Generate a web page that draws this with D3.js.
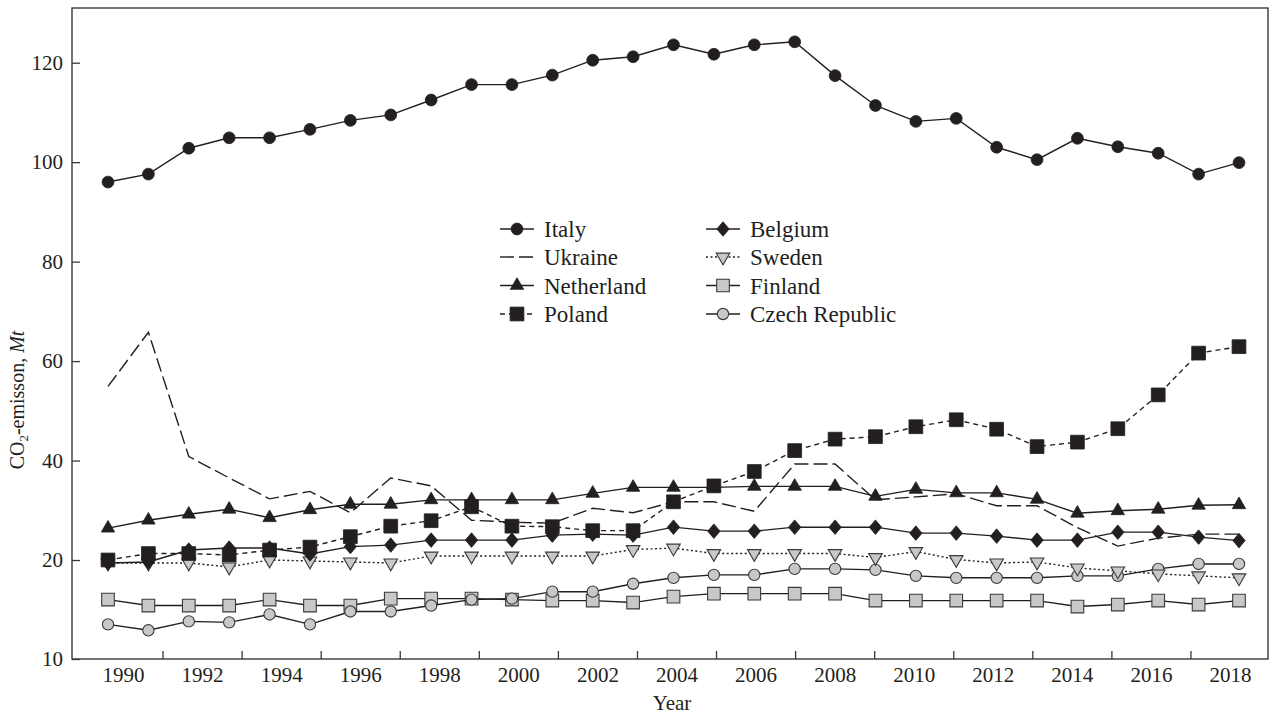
<!DOCTYPE html>
<html>
<head>
<meta charset="utf-8">
<script src="https://cdn.jsdelivr.net/npm/d3@7"></script>
<style>
  html, body { margin: 0; padding: 0; background: #fff; }
  svg { display: block; }
  text { font-family: "Liberation Serif", "Times New Roman", serif; fill: #231f20; }
</style>
</head>
<body>
<svg id="chart" width="1272" height="714"></svg>
<script>
// Annual CO2 emissions, Mt
const years = d3.range(1990, 2019);

const italy = [96.0, 97.6, 102.8, 104.9, 104.9, 106.6, 108.4, 109.5, 112.5, 115.6,
               115.6, 117.5, 120.5, 121.2, 123.6, 121.7, 123.6, 124.2, 117.4, 111.4,
               108.2, 108.8, 103.0, 100.5, 104.8, 103.1, 101.8, 97.6, 99.9];
const ukraine = [54.9, 65.8, 40.8, 36.5, 32.3, 33.8, 29.5, 36.5, 34.9, 28.0,
                 27.6, 27.4, 30.4, 29.5, 31.7, 31.7, 29.8, 39.3, 39.3, 32.1,
                 32.7, 33.3, 30.9, 30.9, 26.5, 22.8, 24.4, 25.2, 25.2];
const netherland = [26.4, 28.0, 29.2, 30.2, 28.5, 30.1, 31.2, 31.2, 32.1, 32.1,
                    32.1, 32.1, 33.4, 34.6, 34.6, 34.6, 34.8, 34.8, 34.8, 32.8,
                    34.2, 33.5, 33.5, 32.2, 29.4, 29.9, 30.2, 31.0, 31.1];
const poland = [20.0, 21.3, 21.3, 21.0, 22.0, 22.6, 24.7, 26.8, 27.9, 30.7,
                26.8, 26.7, 25.9, 25.9, 31.7, 34.9, 37.8, 42.0, 44.3, 44.8,
                46.8, 48.2, 46.3, 42.8, 43.7, 46.4, 53.2, 61.6, 62.9];
const belgium = [19.7, 19.8, 22.0, 22.4, 22.4, 21.2, 22.7, 23.0, 24.0, 24.0,
                 24.0, 25.0, 25.2, 25.0, 26.6, 25.8, 25.8, 26.6, 26.6, 26.6,
                 25.4, 25.4, 24.8, 24.0, 24.0, 25.6, 25.6, 24.6, 23.9];
const sweden = [19.7, 19.7, 19.7, 19.3, 20.0, 19.9, 19.8, 19.7, 20.8, 20.8,
                20.8, 20.8, 20.8, 22.1, 22.4, 21.3, 21.3, 21.3, 21.3, 20.5,
                21.7, 20.1, 19.7, 19.8, 19.2, 18.9, 18.6, 18.4, 18.2];
const finland = [16.0, 15.4, 15.4, 15.4, 16.0, 15.4, 15.4, 16.1, 16.1, 16.1,
                 16.0, 15.9, 15.9, 15.7, 16.3, 16.6, 16.6, 16.6, 16.6, 15.9,
                 15.9, 15.9, 15.9, 15.9, 15.3, 15.5, 15.9, 15.5, 15.9];
const czech = [13.5, 12.9, 13.8, 13.7, 14.5, 13.5, 14.8, 14.8, 15.4, 16.0,
               16.1, 16.8, 16.8, 17.6, 18.2, 18.5, 18.5, 19.1, 19.1, 19.0,
               18.4, 18.2, 18.2, 18.2, 18.4, 18.4, 19.1, 19.6, 19.6];

const yTicks = [10, 20, 40, 60, 80, 100, 120];
const yearLabels = d3.range(1990, 2019, 2);
const yearTicks = d3.range(1991, 2018, 2);

const INK = "#231f20";
const GREY = "#c7c8ca";

// custom rhombus a bit wider than d3's built-in diamond
const rhombus = {
  draw(ctx, size) {
    const h = Math.sqrt(size / 1.7);
    const w = h * 0.85;
    ctx.moveTo(0, -h); ctx.lineTo(w, 0); ctx.lineTo(0, h); ctx.lineTo(-w, 0); ctx.closePath();
  }
};
const triDown = {
  draw(ctx, size) {
    const s = Math.sqrt(size * 4 / Math.sqrt(3));
    const h = s * Math.sqrt(3) / 2;
    ctx.moveTo(-s / 2, -h / 3); ctx.lineTo(s / 2, -h / 3); ctx.lineTo(0, 2 * h / 3); ctx.closePath();
  }
};

const series = [
  { name: "Italy",          values: italy,      symbol: d3.symbolCircle,   size: 110, fill: INK,  dash: null },
  { name: "Ukraine",        values: ukraine,    symbol: null,              size: 0,   fill: INK,  dash: "14,5" },
  { name: "Netherland",     values: netherland, symbol: d3.symbolTriangle, size: 78,  fill: INK,  dash: null },
  { name: "Poland",         values: poland,     symbol: d3.symbolSquare,   size: 190, fill: INK,  dash: "5,4" },
  { name: "Belgium",        values: belgium,    symbol: rhombus,           size: 90,  fill: INK,  dash: null },
  { name: "Sweden",         values: sweden,     symbol: triDown,           size: 80,  fill: GREY, dash: "2,2.5" },
  { name: "Finland",        values: finland,    symbol: d3.symbolSquare,   size: 160, fill: GREY, dash: null },
  { name: "Czech Republic", values: czech,      symbol: d3.symbolCircle,   size: 100, fill: GREY, dash: null }
];

const drawOrder = ["Finland", "Czech Republic", "Sweden", "Belgium", "Netherland", "Ukraine", "Poland", "Italy"];

const svg = d3.select("#chart");
const plotLeft = 72, plotRight = 1268, plotTop = 8, plotBottom = 659;

// data positions and axis labelling
const x = d3.scaleLinear().domain([1990, 2018]).range([108, 1239]);
const xAxisScale = d3.scaleLinear().domain([1990, 2018]).range([123, 1230]);
// broken value axis: 10-20 stretched, 20 upward linear
const y = d3.scaleLinear().domain([10, 20, 131]).range([plotBottom, 560, plotTop]);

// frame
svg.append("rect")
  .attr("x", plotLeft).attr("y", plotTop)
  .attr("width", plotRight - plotLeft).attr("height", plotBottom - plotTop)
  .attr("fill", "none").attr("stroke", "#3a3a3a").attr("stroke-width", 1.4);

// y axis
const gy = svg.append("g").attr("transform", `translate(${plotLeft},0)`)
  .call(d3.axisLeft(y).tickValues(yTicks).tickFormat(d3.format("d"))
        .tickSizeInner(-8).tickSizeOuter(0).tickPadding(9));
gy.select(".domain").remove();
gy.selectAll("line").attr("stroke", "#3a3a3a").attr("stroke-width", 1.3);
gy.selectAll("text").style("font-size", "21px").attr("fill", INK)
  .style("font-family", '"Liberation Serif", serif');

// x axis: tick marks at odd years, labels at even years
const gxT = svg.append("g").attr("transform", `translate(0,${plotBottom})`)
  .call(d3.axisBottom(xAxisScale).tickValues(yearTicks).tickFormat("")
        .tickSizeInner(-8).tickSizeOuter(0));
gxT.select(".domain").remove();
gxT.selectAll("line").attr("stroke", "#3a3a3a").attr("stroke-width", 1.3);

const gxL = svg.append("g").attr("transform", `translate(0,${plotBottom})`)
  .call(d3.axisBottom(xAxisScale).tickValues(yearLabels).tickFormat(d3.format("d"))
        .tickSize(0).tickPadding(8));
gxL.select(".domain").remove();
gxL.selectAll("text").style("font-size", "21px").attr("fill", INK)
  .style("font-family", '"Liberation Serif", serif');

// axis titles
svg.append("text")
  .attr("x", 672).attr("y", 710)
  .attr("text-anchor", "middle")
  .style("font-size", "21px")
  .text("Year");

const yt = svg.append("text")
  .attr("transform", "translate(24,400) rotate(-90)")
  .attr("text-anchor", "middle")
  .style("font-size", "20px");
yt.append("tspan").text("CO");
yt.append("tspan").attr("dy", 4).style("font-size", "13px").text("2");
yt.append("tspan").attr("dy", -4).text("-emisson, ");
yt.append("tspan").style("font-style", "italic").text("Mt");

// series
const line = d3.line().x((d, i) => x(years[i])).y(d => y(d));
const plot = svg.append("g");

drawOrder.forEach(name => {
  const s = series.find(d => d.name === name);
  const g = plot.append("g");
  g.append("path")
    .attr("d", line(s.values))
    .attr("fill", "none")
    .attr("stroke", INK)
    .attr("stroke-width", 1.4)
    .attr("stroke-dasharray", s.dash);
  if (s.symbol) {
    const sym = d3.symbol().type(s.symbol).size(s.size);
    g.selectAll("path.m").data(s.values).join("path")
      .attr("class", "m")
      .attr("d", sym)
      .attr("transform", (d, i) => `translate(${x(years[i])},${y(d)})`)
      .attr("fill", s.fill)
      .attr("stroke", s.fill === GREY ? "#3a3a3a" : INK)
      .attr("stroke-width", s.fill === GREY ? 1.1 : 0.8);
  }
});

// legend
const legendCols = [500, 706];
const legendRows = [229, 257, 285.5, 314];
series.forEach((s, i) => {
  const col = Math.floor(i / 4), row = i % 4;
  const lx = legendCols[col], ly = legendRows[row];
  const g = svg.append("g").attr("transform", `translate(${lx},${ly})`);
  g.append("line")
    .attr("x1", 0).attr("x2", 34).attr("y1", 0).attr("y2", 0)
    .attr("stroke", INK).attr("stroke-width", 1.4)
    .attr("stroke-dasharray", s.dash);
  if (s.symbol) {
    g.append("path")
      .attr("d", d3.symbol().type(s.symbol).size(s.size)())
      .attr("transform", "translate(17,0)")
      .attr("fill", s.fill)
      .attr("stroke", s.fill === GREY ? "#3a3a3a" : INK)
      .attr("stroke-width", s.fill === GREY ? 1.1 : 0.8);
  }
  g.append("text")
    .attr("x", 44).attr("y", 0).attr("dy", "0.35em")
    .style("font-size", "23px")
    .text(s.name);
});
</script>
</body>
</html>
